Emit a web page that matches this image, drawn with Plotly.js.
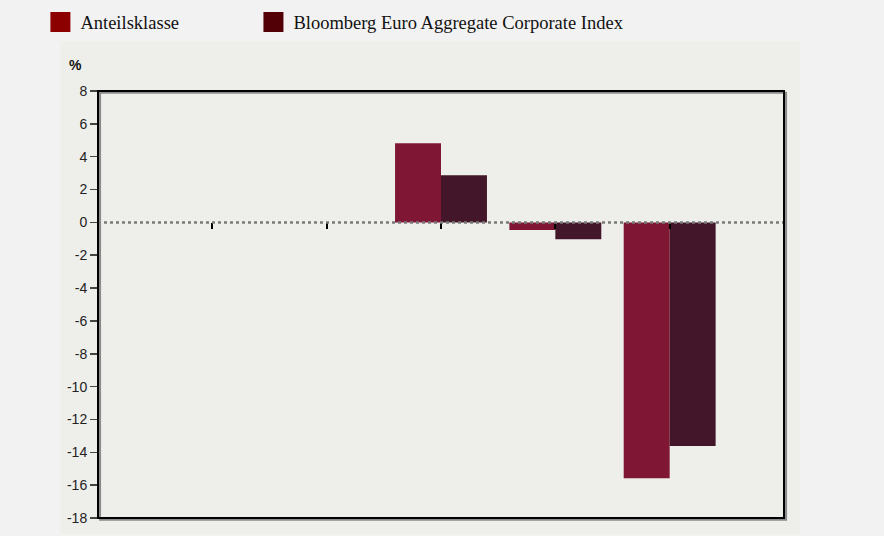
<!DOCTYPE html>
<html>
<head>
<meta charset="utf-8">
<script src="https://cdn.plot.ly/plotly-3.0.1.min.js"></script>
<style>html,body{margin:0;padding:0;background:#f2f2f2;}</style>
</head>
<body>
<div id="chart" style="width:884px;height:536px;"></div>
<script>
// Data
const categories = ['P1', 'P2', 'P3', 'P4', 'P5'];
const anteilsklasse = [null, null, 4.82, -0.46, -15.58];
const benchmark = [null, null, 2.87, -1.03, -13.62];
const seriesNames = ['Anteilsklasse', 'Bloomberg Euro Aggregate Corporate Index'];
const barColors = ['#7f1734', '#431629'];
const legendColors = ['#8c0000', '#520005'];
const yTicks = [8, 6, 4, 2, 0, -2, -4, -6, -8, -10, -12, -14, -16, -18];
const yTickText = ['8', '6', '4', '2', '0', '-2', '-4', '-6', '-8', '-10', '-12', '-14', '-16', '-18'];

const traces = [
  {type: 'bar', x: categories, y: anteilsklasse, name: seriesNames[0],
   marker: {color: barColors[0]}, showlegend: false, hoverinfo: 'y'},
  {type: 'bar', x: categories, y: benchmark, name: seriesNames[1],
   marker: {color: barColors[1]}, showlegend: false, hoverinfo: 'y'},
  // legend entries (legend swatch colours differ from bar colours)
  {type: 'scatter', mode: 'markers', x: [null], y: [null], name: seriesNames[0], legend: 'legend',
   marker: {symbol: 'square', size: 16, color: legendColors[0], line: {color: legendColors[0], width: 4}}},
  {type: 'scatter', mode: 'markers', x: [null], y: [null], name: seriesNames[1], legend: 'legend2',
   marker: {symbol: 'square', size: 16, color: legendColors[1], line: {color: legendColors[1], width: 4}}}
];

const legendFont = {family: 'Liberation Serif, Times New Roman, serif', size: 18.5, color: '#111'};

const layout = {
  width: 884, height: 536,
  margin: {l: 98, r: 100, t: 91, b: 18, pad: 0, autoexpand: false},
  paper_bgcolor: '#f2f2f2',
  plot_bgcolor: '#eeeeea',
  font: {family: 'Liberation Sans, Arial, sans-serif', size: 14, color: '#222'},
  barmode: 'group', bargap: 0.196, bargroupgap: 0,
  showlegend: true,
  legend: {
    orientation: 'h', xref: 'container', yref: 'container',
    x: 0.0457, xanchor: 'left', y: 0.9933, yanchor: 'top',
    bgcolor: 'rgba(0,0,0,0)', itemsizing: 'trace', font: legendFont
  },
  legend2: {
    orientation: 'h', xref: 'container', yref: 'container',
    x: 0.2867, xanchor: 'left', y: 0.9933, yanchor: 'top',
    bgcolor: 'rgba(0,0,0,0)', itemsizing: 'trace', font: legendFont
  },
  xaxis: {
    type: 'category', categoryorder: 'array', categoryarray: categories,
    range: [-1, 5], anchor: 'free', position: 18 / 26,
    showline: false, showgrid: false, zeroline: false,
    ticks: 'outside', ticklen: 6, tickwidth: 2, tickcolor: '#000',
    showticklabels: false, fixedrange: true
  },
  yaxis: {
    range: [-18, 8], tickmode: 'array', tickvals: yTicks, ticktext: yTickText,
    ticks: 'outside', ticklen: 7, tickwidth: 1.5, tickcolor: '#444',
    showline: false, showgrid: false, zeroline: false,
    tickfont: {family: 'Liberation Sans, Arial, sans-serif', size: 14, color: '#222'},
    fixedrange: true
  },
  shapes: [
    {type: 'rect', xref: 'paper', yref: 'paper', x0: -0.0549, x1: 1.0233, y0: -0.0382, y1: 1.1164,
     fillcolor: '#eeeeea', line: {width: 0}, layer: 'below'},
    {type: 'line', xref: 'paper', yref: 'y', x0: 0, x1: 1, y0: 0, y1: 0,
     line: {color: '#7a7a7a', width: 2.5, dash: 'dot'}, layer: 'above'},
    {type: 'rect', xref: 'paper', yref: 'paper', x0: 0.003, x1: 1.003, y0: -0.004, y1: 0.996,
     line: {color: '#8a8a8a', width: 2}, layer: 'above'},
    {type: 'rect', xref: 'paper', yref: 'paper', x0: 0, x1: 1, y0: 0, y1: 1,
     line: {color: '#000', width: 2}, layer: 'above'}
  ],
  annotations: [
    {text: '<b>%</b>', xref: 'paper', yref: 'paper', x: -0.033, y: 1.06,
     xanchor: 'center', yanchor: 'middle', showarrow: false,
     font: {family: 'Liberation Sans, Arial, sans-serif', size: 14, color: '#111'}}
  ]
};

Plotly.newPlot('chart', traces, layout, {displayModeBar: false, staticPlot: true});
</script>
</body>
</html>
